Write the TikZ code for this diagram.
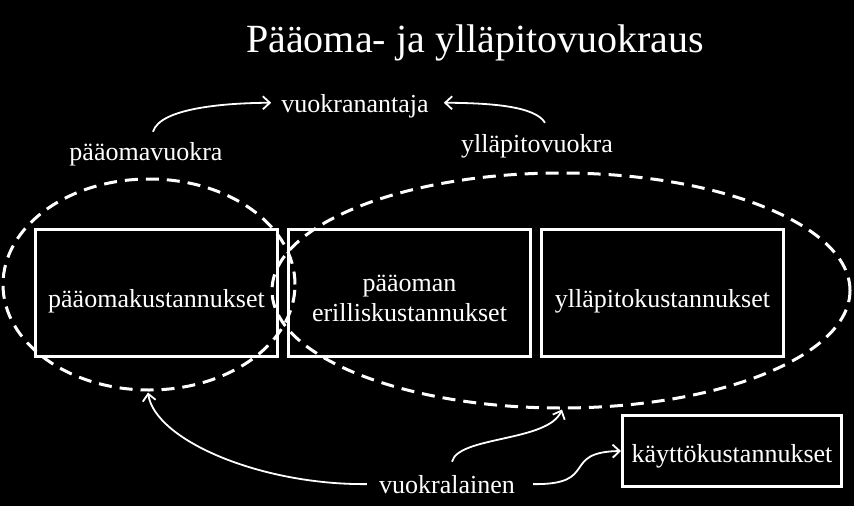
\documentclass[tikz,border=0pt]{standalone}
\usepackage{fontspec}
\setmainfont{Liberation Serif}
\usetikzlibrary{shapes.geometric,arrows.meta,calc}
\begin{document}
\begin{tikzpicture}[x=1pt,y=-1pt,
  txt/.style={text=white,font=\fontsize{26}{30}\selectfont,inner sep=0pt,anchor=base},
  costbox/.style={draw=white,line width=3pt,minimum width=242pt,minimum height=127pt,inner sep=0pt,text=white,font=\fontsize{26}{30}\selectfont,align=center},
  leaseoval/.style={ellipse,draw=white,line width=3pt,dash pattern=on 13pt off 8pt,inner sep=0pt},
  conn/.style={draw=white,line width=1.8pt,-{Straight Barb[length=7pt,width=13pt]}}]
\fill[black] (0,0) rectangle (854,506);
\useasboundingbox (0,0) rectangle (854,506);

\node[txt,font=\fontsize{40}{44}\selectfont] (title) at (475,52) {Pääoma- ja ylläpitovuokraus};

\node[costbox,text height=28pt,text depth=0pt] (b1) at (156.5,293) {pääomakustannukset};
\node[costbox,text height=56pt,text depth=0pt] (b2) at (409.5,293) {pääoman\\erilliskustannukset};
\node[costbox,text height=28pt,text depth=0pt] (b3) at (662.5,293) {ylläpitokustannukset};
\node[costbox,minimum width=219pt,minimum height=71pt,text height=22pt,text depth=0pt] (b4) at (732,451) {käyttökustannukset};

\node[leaseoval,minimum width=292pt,minimum height=211pt] (e1) at (149,284.5) {};
\node[leaseoval,minimum width=578pt,minimum height=235pt] (e2) at (561,290.5) {};

\node[txt] (va) at (355,112) {vuokranantaja};
\node[txt] (pv) at (146,160) {pääomavuokra};
\node[txt] (yv) at (537,152) {ylläpitovuokra};
\node[txt] (vl) at (447,493) {vuokralainen};

\draw[conn] ($(pv.north)+(7,-10)$) .. controls (160,108) and (225,103) .. ($(va.west)+(-10,-3)$);
\draw[conn] ($(yv.north)+(8,-11)$) .. controls (535,106) and (490,103) .. ($(va.east)+(15,-3)$);
\draw[conn] ($(vl.west)+(-12,0)$) .. controls (260,485) and (155,440) .. ($(e1.south)+(-1,1)$);
\draw[conn] ($(vl.north)+(5,-13)$) .. controls (458,436) and (548,442) .. ($(e2.south)+(1,0)$);
\draw[conn] ($(vl.east)+(18,0)$) .. controls (600,485) and (560,452) .. (b4.west);
\end{tikzpicture}
\end{document}
